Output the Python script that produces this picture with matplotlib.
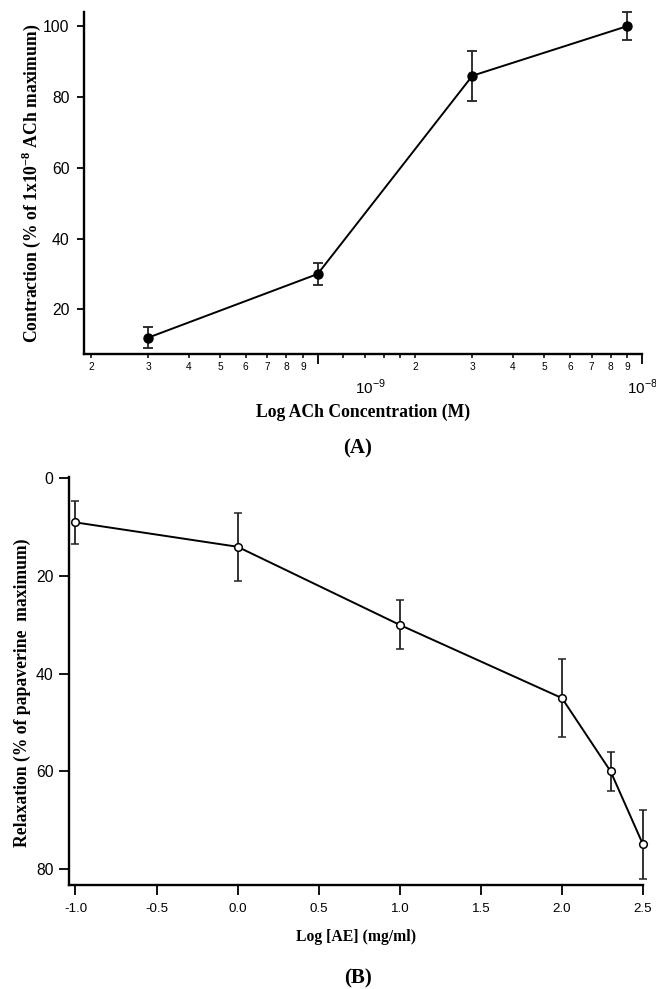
import matplotlib
matplotlib.use('Agg')
import matplotlib.pyplot as plt
import numpy as np

plt.rcParams['font.family'] = 'Liberation Sans'
plt.rcParams['mathtext.fontset'] = 'custom'
plt.rcParams['mathtext.rm'] = 'Liberation Sans'
plt.rcParams['mathtext.bf'] = 'Liberation Serif:bold'

# (A) ACh concentration-response
ach_conc = [3e-10, 1e-9, 3e-9, 9e-9]
ach_resp = [12, 30, 86, 100]
ach_err = [3, 3, 7, 4]

# (B) AE relaxation
ae_log = [-1.0, 0.0, 1.0, 2.0, 2.3, 2.5]
ae_relax = [9, 14, 30, 45, 60, 75]
ae_err = [4.4, 7, 5, 8, 4, 7]

a_yticks = [20, 40, 60, 80, 100]
a_minor = [2e-10, 3e-10, 4e-10, 5e-10, 6e-10, 7e-10, 8e-10, 9e-10,
           1.2e-9, 1.4e-9, 1.6e-9, 1.8e-9,
           2e-9, 3e-9, 4e-9, 5e-9, 6e-9, 7e-9, 8e-9, 9e-9]
a_minor_labels = ['2', '3', '4', '5', '6', '7', '8', '9',
                  '', '', '', '',
                  '2', '3', '4', '5', '6', '7', '8', '9']
b_xticks = [-1.0, -0.5, 0.0, 0.5, 1.0, 1.5, 2.0, 2.5]
b_yticks = [0, 20, 40, 60, 80]

serif_bold = dict(family='Liberation Serif', weight='bold')

fig = plt.figure(figsize=(6.56, 9.89), dpi=100)

# ---- panel A
ax1 = fig.add_axes([83.5 / 656, 1 - 354 / 989, (642 - 83.5) / 656, (354 - 12) / 989])
ax1.errorbar(ach_conc, ach_resp, yerr=ach_err, color='black', lw=1.4,
             marker='o', ms=6.5, capsize=3.3, elinewidth=1.3, capthick=1.3,
             ecolor='#222222', clip_on=False)
ax1.set_xscale('log')
ax1.set_xlim(1.897e-10, 1e-8)
ax1.set_ylim(7.4, 104)
for s in ['top', 'right']:
    ax1.spines[s].set_visible(False)
for s in ['left', 'bottom']:
    ax1.spines[s].set_linewidth(1.7)
ax1.set_yticks(a_yticks)
ax1.tick_params(axis='y', length=5, width=1.3, pad=5, labelsize=11.3)
ax1.set_xticks([1e-9, 1e-8])
ax1.set_xticklabels(['', ''])
ax1.set_xticks(a_minor, minor=True)
ax1.set_xticklabels(a_minor_labels, minor=True)
ax1.tick_params(axis='x', which='major', length=7, width=1.3)
ax1.tick_params(axis='x', which='minor', length=3, width=1.1, pad=2.5, labelsize=7.3)
for xpos, txt in [(1.45e-9, r'$10^{-9}$'), (1e-8, r'$10^{-8}$')]:
    ax1.annotate(txt, xy=(xpos, 0), xycoords=('data', 'axes fraction'),
                 xytext=(0, -24), textcoords='offset points',
                 ha='center', va='center', fontsize=11, annotation_clip=False)
ax1.set_xlabel('Log ACh Concentration (M)', fontsize=12.7, **serif_bold)
ax1.xaxis.label.set_va('center')
ax1.xaxis.set_label_coords(0.5, (354 - 412) / 342)
ax1.set_ylabel(r'Contraction (% of 1x10$^{\mathbf{-8}}$ ACh maximum)', fontsize=12.7, **serif_bold)
ax1.yaxis.label.set_va('center')
ax1.yaxis.set_label_coords((31 - 83.5) / 558.5, 0.5)
fig.text(358 / 656, 1 - 448 / 989, '(A)', ha='center', va='center', fontsize=15, **serif_bold)

# ---- panel B
ax2 = fig.add_axes([69 / 656, 1 - 885 / 989, (643 - 69) / 656, (885 - 477) / 989])
ax2.errorbar(ae_log, ae_relax, yerr=ae_err, color='black', lw=1.4,
             marker='o', ms=5.5, mfc='white', mew=1.1, capsize=2.8,
             elinewidth=1.3, capthick=1.3, ecolor='#222222', clip_on=False)
ax2.set_xlim(-1.04, 2.5)
ax2.set_ylim(83.3, -0.3)
for s in ['top', 'right']:
    ax2.spines[s].set_visible(False)
for s in ['left', 'bottom']:
    ax2.spines[s].set_linewidth(1.7)
ax2.set_xticks(b_xticks)
ax2.set_xticklabels([f'{v:.1f}' for v in b_xticks])
ax2.set_yticks(b_yticks)
ax2.tick_params(axis='x', length=7, width=1.3, pad=6, labelsize=9.6)
ax2.tick_params(axis='y', length=7.5, width=1.3, pad=3.5, labelsize=11.3)
ax2.set_xlabel('Log [AE] (mg/ml)', fontsize=11.3, **serif_bold)
ax2.xaxis.label.set_va('center')
ax2.xaxis.set_label_coords(0.5, (885 - 937) / 408)
ax2.set_ylabel('Relaxation (% of papaverine  maximum)', fontsize=12.7, **serif_bold)
ax2.yaxis.label.set_va('center')
ax2.yaxis.set_label_coords((22 - 69) / 574, 0.47)
fig.text(358 / 656, 1 - 978 / 989, '(B)', ha='center', va='center', fontsize=15, **serif_bold)

fig.savefig('out.png', dpi=100)
